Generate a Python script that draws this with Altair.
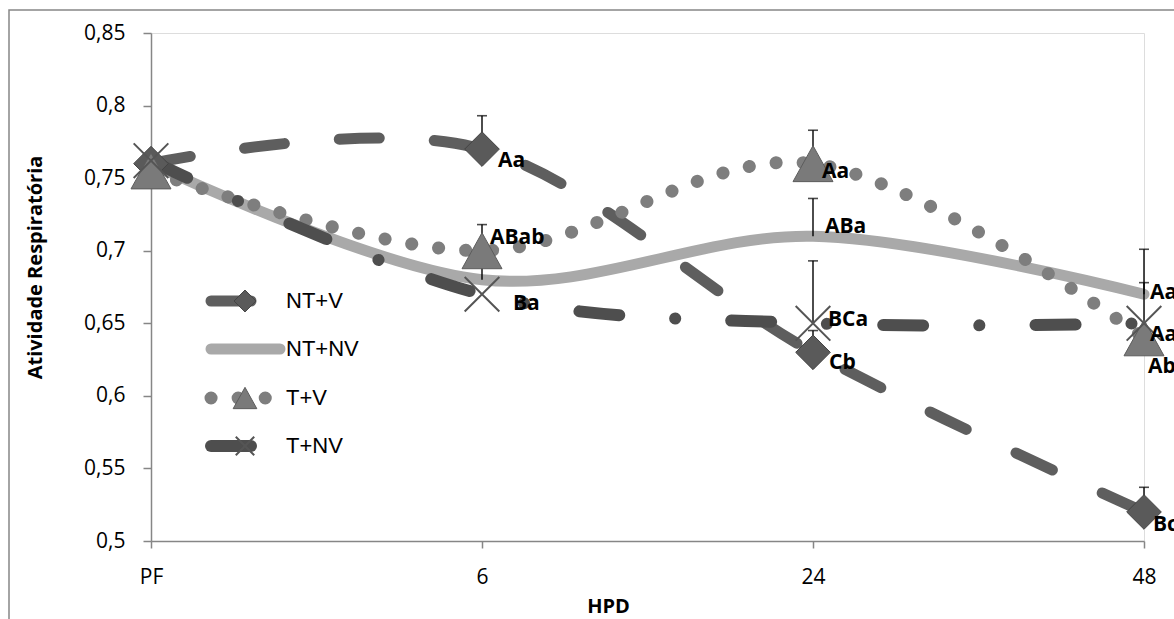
import altair as alt
import pandas as pd

# ---------------- data ----------------
hpd = ["PF", "6", "24", "48"]
series = ["NT+V", "NT+NV", "T+V", "T+NV"]

nt_v = [0.76, 0.77, 0.63, 0.52]
nt_nv = [0.76, 0.68, 0.71, 0.67]
t_v = [0.755, 0.70, 0.76, 0.64]
t_nv = [0.762, 0.67, 0.65, 0.65]

# top of the (upper) error bars, None where there is no bar
nt_v_err = [None, 0.793, 0.645, 0.537]
nt_nv_err = [None, 0.705, 0.736, 0.678]
t_v_err = [None, 0.718, 0.783, None]
t_nv_err = [None, None, 0.693, 0.701]

nt_v_lab = ["", "Aa", "Cb", "Bc"]
nt_nv_lab = ["", "", "ABa", "Aa"]
t_v_lab = ["", "ABab", "Aa", "Ab"]
t_nv_lab = ["", "Ba", "BCa", "Aa"]

values = {"NT+V": nt_v, "NT+NV": nt_nv, "T+V": t_v, "T+NV": t_nv}
errs = {"NT+V": nt_v_err, "NT+NV": nt_nv_err, "T+V": t_v_err, "T+NV": t_nv_err}
labs = {"NT+V": nt_v_lab, "NT+NV": nt_nv_lab, "T+V": t_v_lab, "T+NV": t_nv_lab}

rows = []
for s in series:
    for i, h in enumerate(hpd):
        rows.append({"series": s, "hpd": h, "idx": i, "value": values[s][i],
                     "err": errs[s][i], "label": labs[s][i]})
df = pd.DataFrame(rows)

# ---------------- styles ----------------
style = {
    "NT+V": dict(color="#5e5e5e", width=11, dash=[40, 55], shape="diamond",
                 mfill="#5a5a5a", mstroke="#444444", msize=1200, lsize=480),
    "NT+NV": dict(color="#a9a9a9", width=11, dash=None, shape=None),
    "T+V": dict(color="#7e7e7e", width=13, dash=[0.1, 27],
                shape="M0,-0.9L1,0.9L-1,0.9Z", mfill="#7a7a7a",
                mstroke="#5c5c5c", msize=1600, lsize=560),
    "T+NV": dict(color="#4e4e4e", width=12, dash=[40, 56, 0.1, 56],
                 shape="M-1,-1L1,1M-1,1L1,-1", mfill=None,
                 mstroke="#555555", msize=1200, lsize=340),
}

# label nudges in pixels (dx, dy)
nudges = {("NT+V", "6"): (16, 12), ("NT+V", "24"): (16, 11), ("NT+V", "48"): (9, 13),
          ("NT+NV", "24"): (12, -9), ("NT+NV", "48"): (6, -1),
          ("T+V", "6"): (8, -13), ("T+V", "24"): (9, 8), ("T+V", "48"): (4, 29),
          ("T+NV", "6"): (31, 10), ("T+NV", "24"): (15, -3), ("T+NV", "48"): (6, 12)}

FONT = "Open Sans"
AX = "#868686"

x_enc = alt.X("hpd:N", sort=hpd, scale=alt.Scale(type="point", padding=0),
              axis=alt.Axis(title="HPD", labelAngle=0, domainColor=AX, tickColor=AX,
                            tickSize=7, labelPadding=18, labelFont=FONT, labelFontSize=21,
                            labelColor="#000000", titleFont=FONT, titleFontSize=20,
                            titleFontWeight="bold", titleColor="#000000",
                            titleX=457, titleY=65, titleBaseline="middle",
                            titleAlign="center", domainWidth=1.5, tickWidth=1.5))
y_scale = alt.Scale(domain=[0.5, 0.85], nice=False, zero=False)
y_enc = alt.Y("value:Q", scale=y_scale,
              axis=alt.Axis(title="Atividade Respiratória",
                            values=[0.5, 0.55, 0.6, 0.65, 0.7, 0.75, 0.8, 0.85],
                            labelExpr="replace(format(datum.value, '.2~f'), '.', ',')",
                            grid=False, domainColor=AX, tickColor=AX, tickSize=8,
                            labelPadding=18, labelFont=FONT, labelFontSize=21,
                            labelColor="#000000", titleFont=FONT, titleFontSize=20,
                            titleFontWeight="bold", titleColor="#000000",
                            titleX=-116, titleY=234, titleBaseline="middle",
                            titleAlign="center", titleAngle=-90,
                            domainWidth=1.5, tickWidth=1.5))

layers = []

# outer frame of the chart area
frame = alt.Chart(pd.DataFrame({"a": [0]})).mark_rect(
    fillOpacity=0, stroke=AX, strokeWidth=1.5).encode(
    x=alt.value(-142), x2=alt.value(1300), y=alt.value(-23), y2=alt.value(800))
layers.append(frame)

# lines
for s in series:
    st = style[s]
    kw = dict(interpolate="cardinal", color=st["color"], strokeWidth=st["width"],
              strokeCap="round", strokeJoin="round")
    if st["dash"]:
        kw["strokeDash"] = st["dash"]
    layers.append(alt.Chart(df[df.series == s]).mark_line(**kw).encode(
        x=x_enc, y=y_enc, order=alt.Order("idx:Q")))

# error bars
edf = df.dropna(subset=["err"])
layers.append(alt.Chart(edf).mark_rule(color="#000000", strokeWidth=1.4).encode(
    x=x_enc, y=y_enc, y2="err:Q"))
layers.append(alt.Chart(edf).mark_tick(color="#000000", size=10, thickness=1.6).encode(
    x=x_enc, y=alt.Y("err:Q", scale=y_scale)))

# markers
for s in series:
    st = style[s]
    if not st["shape"]:
        continue
    if st["mfill"]:
        mk = alt.Chart(df[df.series == s]).mark_point(
            shape=st["shape"], size=st["msize"], filled=True, fill=st["mfill"],
            stroke=st["mstroke"], strokeWidth=1, opacity=1)
    else:
        mk = alt.Chart(df[df.series == s]).mark_point(
            shape=st["shape"], size=st["msize"], filled=False,
            stroke=st["mstroke"], strokeWidth=2, opacity=1)
    layers.append(mk.encode(x=x_enc, y=y_enc))

# data labels
ldf = df[df.label != ""]
for (s, h), (dx, dy) in nudges.items():
    sub = ldf[(ldf.series == s) & (ldf.hpd == h)]
    layers.append(alt.Chart(sub).mark_text(
        align="left", baseline="middle", dx=dx, dy=dy, font=FONT, fontSize=21,
        fontWeight="bold", color="#000000").encode(x=x_enc, y=y_enc, text="label:N"))

# legend (manual, Excel-style line + marker)
leg_y = {"NT+V": 268, "NT+NV": 316, "T+V": 365, "T+NV": 413}
for s in series:
    st = style[s]
    one = pd.DataFrame({"series": [s]})
    kw = dict(color=st["color"], strokeWidth=st["width"], strokeCap="round")
    if st["dash"]:
        kw["strokeDash"] = st["dash"]
    layers.append(alt.Chart(one).mark_rule(**kw).encode(
        x=alt.value(60), x2=alt.value(129), y=alt.value(leg_y[s])))
    if st["shape"]:
        if st["mfill"]:
            m = alt.Chart(one).mark_point(shape=st["shape"], size=st["lsize"], filled=True,
                                          fill=st["mfill"], stroke=st["mstroke"],
                                          strokeWidth=1, opacity=1)
        else:
            m = alt.Chart(one).mark_point(shape=st["shape"], size=st["lsize"], filled=False,
                                          stroke=st["mstroke"], strokeWidth=2, opacity=1)
        layers.append(m.encode(x=alt.value(94), y=alt.value(leg_y[s])))
    layers.append(alt.Chart(one).mark_text(
        align="left", baseline="middle", font="Liberation Sans", fontSize=22,
        color="#000000").encode(x=alt.value(135), y=alt.value(leg_y[s]), text="series:N"))

chart = alt.layer(*layers).properties(
    width=993, height=508,
    autosize=alt.AutoSizeParams(type="none"),
    padding={"left": 151, "top": 33, "right": 30, "bottom": 78},
).configure_view(stroke=None).configure(background="#ffffff")

chart.save("out.html", embed_options={"renderer": "svg", "actions": False})
